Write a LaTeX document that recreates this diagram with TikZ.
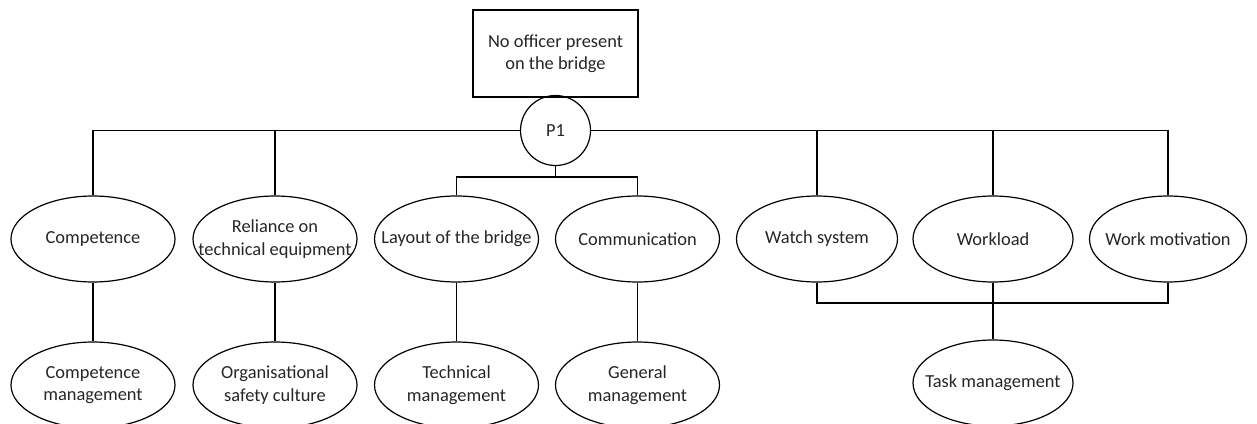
\documentclass[tikz,border=0pt]{standalone}
\usepackage{fontspec}
\setmainfont{Carlito}
\usetikzlibrary{shapes.geometric}
\begin{document}
\begin{tikzpicture}[x=1pt,y=-1pt,
  every node/.style={font=\fontsize{18.4}{22.5}\selectfont, text=black!85},
  link/.style={draw=black, line width=1.4pt},
  topbox/.style={draw, line width=1.4pt, minimum width=165pt, minimum height=87pt, align=center, inner sep=0pt},
  gate/.style={draw, circle, line width=1.2pt, minimum size=70pt, inner sep=0pt},
  oval/.style={draw, ellipse, line width=1.2pt, minimum width=164pt, minimum height=86pt, inner sep=0pt},
  txt/.style={align=center, inner sep=0pt}]
\useasboundingbox (0,0) rectangle (1257,423);
\clip (0,0) rectangle (1257,423);
\fill[white] (0,0) rectangle (1257,423);

% top event and gate
\node[topbox] (top) at (555.5,53.5) {No officer present\\on the bridge};
\node[gate] (p1) at (555.5,130.5) {P1};

% first level factors
\node[oval, label={[txt]center:Competence}] (comp) at (93,239) {};
\node[oval, label={[txt]center:Reliance on\\technical equipment}] (rel) at (275,239) {};
\node[oval, label={[txt]center:Layout of the bridge}] (lay) at (456.5,239) {};
\node[oval, label={[txt]center:Communication}] (com) at (637.5,239) {};
\node[oval, minimum width=161pt, label={[txt]center:Watch system}] (watch) at (817,239) {};
\node[oval, minimum width=160pt, label={[txt]center:Workload}] (work) at (993,239) {};
\node[oval, minimum width=157pt, label={[txt]center:Work motivation}] (mot) at (1168,239) {};

% second level factors
\node[oval, label={[txt]center:Competence\\management}] (compm) at (93,385) {};
\node[oval, label={[txt]center:Organisational\\safety culture}] (org) at (275,385) {};
\node[oval, label={[txt]center:Technical\\management}] (tech) at (456.5,385) {};
\node[oval, label={[txt]center:General\\management}] (gen) at (637.5,385) {};
\node[oval, minimum width=160pt, label={[txt]center:Task management}] (task) at (993,383) {};

% junction points
\coordinate (jmid) at (555.5,177);
\coordinate (jlow) at (993,303);

% connectors from the gate
\draw[link] (p1.west) -| (comp.north);
\draw[link] (p1.east) -| (mot.north);
\draw[link] (rel.north) -- (rel.north |- p1.west);
\draw[link] (watch.north) -- (watch.north |- p1.east);
\draw[link] (work.north) -- (work.north |- p1.east);
\draw[link] (p1.south) -- (jmid);
\draw[link] (lay.north) |- (jmid) -| (com.north);

% connectors to the second level
\draw[link] (comp.south) -- (compm.north);
\draw[link] (rel.south) -- (org.north);
\draw[link] (lay.south) -- (tech.north);
\draw[link] (com.south) -- (gen.north);
\draw[link] (watch.south) |- (jlow) -| (mot.south);
\draw[link] (work.south) -- (task.north);
\end{tikzpicture}
\end{document}
